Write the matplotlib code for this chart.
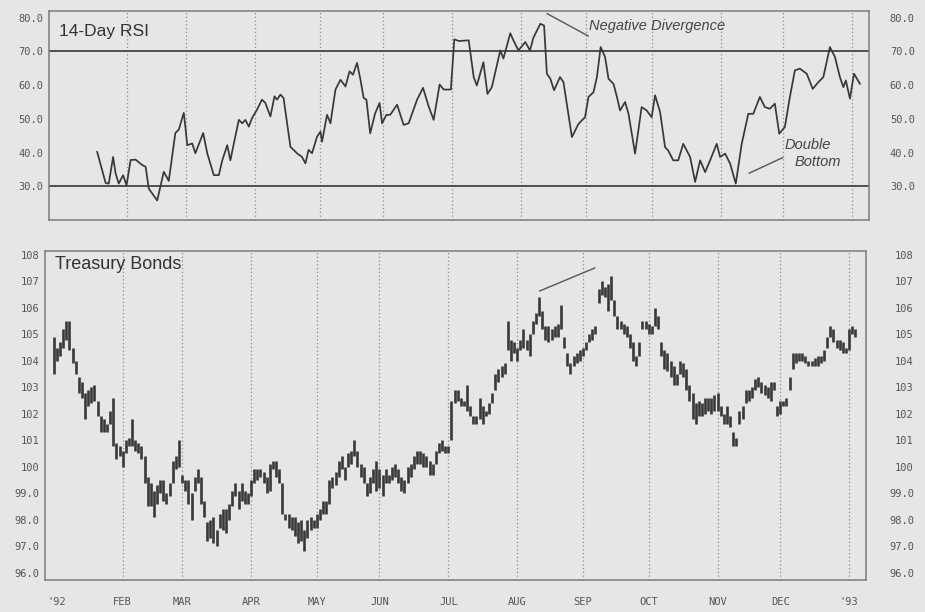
import matplotlib
matplotlib.use("Agg")
import matplotlib.pyplot as plt

# --------------------------------------------------------------------------- #
# Data (x = trading day of 1992, 0 = Jan 2)
# --------------------------------------------------------------------------- #

month_labels = ["'92", "FEB", "MAR", "APR", "MAY", "JUN", "JUL",
                "AUG", "SEP", "OCT", "NOV", "DEC", "'93"]
month_start = [0, 21, 40, 62, 83, 103, 125, 147, 168, 189, 211, 231, 253]

rsi_ticks = [30, 40, 50, 60, 70, 80]
rsi_levels = [30, 70]

rsi_day = [
    11.6, 14.3, 15.3, 16.7, 17.5, 18.5, 19.9, 21.0, 22.3, 23.9,
    26.0, 27.1, 28.1, 30.8, 32.9, 34.5, 36.6, 37.7, 39.3, 39.8,
    40.4, 42.0, 43.0, 45.5, 46.8, 48.9, 50.5, 51.6, 53.2, 54.2,
    55.3, 56.9, 58.0, 59.0, 60.1, 61.1, 62.7, 64.3, 65.4, 67.0,
    68.3, 69.1, 70.2, 71.2, 73.4, 75.5, 77.1, 78.2, 79.2, 80.3,
    81.9, 83.0, 83.5, 85.1, 86.2, 87.8, 89.4, 91.0, 92.3, 93.4,
    94.7, 95.8, 96.8, 97.7, 98.9, 100.5, 101.9, 102.7, 104.1, 105.3,
    107.5, 109.6, 111.2, 113.9, 115.8, 117.6, 119.2, 121.1, 122.4, 124.7,
    125.8, 127.2, 130.4, 132.0, 133.0, 135.1, 136.4, 137.8, 140.5, 141.5,
    143.7, 144.7, 146.3, 148.5, 150.0, 151.1, 153.3, 154.5, 155.4, 156.5,
    157.7, 159.6, 160.7, 163.4, 165.5, 167.6, 168.7, 170.3, 171.4, 172.6,
    174.0, 175.1, 176.7, 177.8, 178.8, 180.4, 181.5, 183.6, 185.7, 187.3,
    188.9, 190.0, 191.6, 193.2, 194.2, 195.8, 197.4, 199.0, 201.2, 202.8,
    204.4, 206.0, 207.6, 209.7, 210.8, 212.4, 214.0, 215.8, 217.7, 219.8,
    221.4, 223.5, 225.1, 226.7, 228.3, 229.7, 231.5, 233.1, 234.7, 236.3,
    238.5, 240.4, 242.2, 243.8, 245.9, 247.5, 249.1, 250.2, 251.0, 252.3,
    253.6, 255.5,
]
rsi_value = [
    40.2, 31.0, 30.8, 38.7, 33.8, 30.8, 33.3, 30.3, 37.8, 37.9,
    36.3, 35.8, 29.3, 25.8, 34.3, 31.6, 45.8, 46.8, 51.8, 47.7,
    42.2, 42.7, 39.8, 45.8, 39.8, 33.3, 33.3, 37.7, 42.2, 37.7,
    42.7, 49.7, 48.7, 49.7, 47.7, 50.2, 52.7, 55.7, 54.7, 50.7,
    56.7, 55.7, 57.2, 56.2, 41.7, 39.8, 38.7, 36.8, 40.8, 39.8,
    44.7, 46.2, 43.2, 51.2, 48.7, 58.7, 61.6, 59.6, 64.1, 63.1,
    66.6, 61.6, 56.2, 55.7, 45.7, 51.7, 54.7, 48.7, 51.2, 51.2,
    54.2, 48.2, 48.7, 55.7, 59.2, 53.7, 49.7, 60.2, 58.7, 58.7,
    73.6, 73.1, 73.3, 62.4, 59.9, 66.8, 57.4, 59.4, 70.3, 67.9,
    75.4, 73.3, 70.3, 72.8, 70.3, 74.1, 78.2, 77.7, 63.4, 61.9,
    58.5, 62.4, 60.9, 44.6, 48.5, 50.5, 56.5, 57.9, 62.4, 71.3,
    68.4, 61.9, 60.4, 56.5, 52.5, 55.0, 51.5, 39.7, 53.5, 52.5,
    50.5, 57.0, 52.0, 41.6, 40.6, 37.7, 37.7, 42.6, 38.7, 31.3,
    37.7, 34.2, 37.7, 42.6, 38.7, 39.7, 36.7, 30.8, 42.6, 51.5,
    51.5, 56.5, 53.5, 53.0, 54.5, 45.6, 47.6, 56.5, 64.4, 64.9,
    63.4, 58.9, 60.9, 62.4, 71.3, 68.4, 62.4, 59.4, 61.4, 56.0,
    63.4, 60.4,
]

bond_ticks = [96, 97, 98, 99, 100, 101, 102, 103, 104, 105, 106, 107, 108]
bond_tick_labels = ["96.0", "97.0", "98.0", "99.0", "100", "101", "102",
                    "103", "104", "105", "106", "107", "108"]

# daily high / low bars, first bar is the day before Jan 2
bond_first_day = -1
bond_high = [
    104.9, 104.5, 104.7, 105.2, 105.5, 105.5, 104.5, 104.0, 103.4, 103.2,
    102.8, 102.9, 103.0, 103.1, 102.5, 101.9, 101.8, 101.6, 102.1, 102.6,
    100.9, 100.8, 100.6, 101.0, 101.1, 101.8, 101.0, 100.9, 100.8, 100.4,
    99.6, 99.4, 99.1, 99.3, 99.5, 99.5, 99.0, 99.4, 100.2, 100.4,
    101.0, 99.7, 99.5, 99.5, 99.0, 99.6, 99.9, 99.6, 98.7, 97.9,
    98.0, 98.1, 97.6, 98.2, 98.4, 98.4, 98.6, 99.1, 99.4, 99.1,
    99.4, 99.1, 99.0, 99.5,
    99.9, 99.9, 99.9, 99.8, 99.6, 100.1, 100.2, 100.2, 99.9, 99.4,
    98.2, 98.2, 98.1, 98.1, 97.9, 98.0, 97.6, 98.0, 98.1, 98.0,
    98.2, 98.4, 98.7, 98.7, 99.5, 99.6, 99.8, 100.2, 100.4, 100.0,
    100.5, 100.6, 101.0, 100.6, 100.1, 100.0, 99.4, 99.6, 99.9, 100.2,
    99.9, 99.7, 99.9, 99.7, 100.0, 100.1, 99.9, 99.6, 99.5, 100.0,
    100.1, 100.4, 100.6, 100.6, 100.5, 100.4, 100.2, 100.1, 100.6, 100.9,
    101.0, 100.8, 100.8, 102.5, 102.9, 102.9,
    102.6, 102.5, 103.1, 102.3, 101.9, 101.9, 102.6, 102.3, 102.1, 102.4,
    102.8, 103.5, 103.7, 103.8, 103.9, 105.5, 104.8, 104.7, 104.5, 104.8,
    105.2, 104.8, 105.0, 105.5, 105.8, 106.4, 105.9, 105.3, 105.3, 105.2,
    105.3, 105.4, 106.1, 104.9, 104.3, 103.9, 104.2, 104.3, 104.4, 104.5,
    104.7, 105.0, 105.2, 105.3, 106.7, 107.0, 106.8, 106.9, 107.2, 106.3,
    105.7, 105.5, 105.4, 105.3, 105.0, 104.7, 104.2, 104.7, 105.5, 105.5,
    105.4, 105.3, 106.0, 105.7, 104.7, 104.4,
    104.3, 104.0, 103.8, 103.5, 104.0, 103.9, 103.7, 103.1, 102.8, 102.4,
    102.5, 102.4, 102.6, 102.6, 102.6, 102.7, 102.8, 102.3, 102.0, 102.3,
    101.9, 101.3, 101.1, 102.1, 102.3, 102.9, 102.9, 103.0, 103.3, 103.4,
    103.2, 103.1, 103.0, 103.2, 103.2, 102.3, 102.5, 102.5, 102.6, 103.4,
    104.3, 104.3, 104.3, 104.3, 104.2, 104.0, 104.0, 104.1, 104.2, 104.2,
    104.4, 104.9, 105.3, 105.2, 104.8, 104.8, 104.7, 104.5, 105.2, 105.3,
    105.2,
]
bond_low = [
    103.5, 104.0, 104.2, 104.5, 104.8, 104.4, 103.9, 103.5, 102.8, 102.6,
    101.8, 102.3, 102.4, 102.5, 101.9, 101.3, 101.3, 101.3, 101.6, 100.8,
    100.3, 100.4, 100.0, 100.5, 100.8, 100.8, 100.6, 100.5, 100.3, 99.4,
    98.5, 98.5, 98.1, 98.6, 99.0, 98.7, 98.6, 98.9, 99.4, 99.9,
    100.0, 99.4, 99.1, 98.6, 98.0, 99.1, 99.4, 98.6, 98.1, 97.2,
    97.3, 97.1, 97.0, 97.7, 97.6, 97.5, 98.0, 98.5, 98.9, 98.4,
    98.7, 98.6, 98.6, 98.9,
    99.4, 99.5, 99.6, 99.4, 99.0, 99.1, 99.9, 99.6, 99.4, 98.2,
    98.0, 97.7, 97.6, 97.4, 97.1, 97.2, 96.8, 97.3, 97.6, 97.7,
    97.7, 98.0, 98.2, 98.2, 98.6, 99.2, 99.3, 99.6, 99.9, 99.5,
    100.0, 100.1, 100.4, 100.0, 99.6, 99.4, 98.9, 99.0, 99.4, 99.1,
    99.2, 98.9, 99.4, 99.4, 99.5, 99.6, 99.4, 99.1, 99.0, 99.4,
    99.6, 99.9, 100.1, 100.1, 100.0, 100.0, 99.7, 99.7, 100.1, 100.5,
    100.6, 100.5, 100.5, 101.0, 102.4, 102.5,
    102.3, 102.3, 102.1, 101.9, 101.6, 101.6, 101.8, 101.6, 101.9, 102.0,
    102.4, 102.9, 103.2, 103.4, 103.5, 104.4, 104.0, 104.3, 104.0, 104.4,
    104.5, 104.4, 104.2, 105.0, 105.4, 105.7, 105.2, 104.8, 104.7, 104.8,
    104.9, 104.9, 105.2, 104.5, 103.8, 103.5, 103.8, 103.9, 104.0, 104.2,
    104.4, 104.7, 104.8, 105.0, 106.2, 106.5, 106.4, 105.9, 106.3, 105.7,
    105.2, 105.2, 105.0, 104.9, 104.5, 104.0, 103.8, 104.2, 105.2, 105.2,
    105.0, 105.0, 105.3, 105.2, 104.2, 103.7,
    103.6, 103.4, 103.1, 103.1, 103.5, 103.4, 102.9, 102.5, 101.8, 101.6,
    101.9, 101.9, 102.0, 102.1, 102.0, 102.1, 102.1, 101.9, 101.6, 101.6,
    101.5, 100.8, 100.8, 101.6, 101.8, 102.4, 102.5, 102.6, 102.9, 103.0,
    102.8, 102.7, 102.6, 102.5, 102.9, 101.9, 102.0, 102.3, 102.3, 102.9,
    103.7, 103.9, 104.0, 104.0, 103.9, 103.8, 103.8, 103.8, 103.8, 103.9,
    104.0, 104.5, 104.9, 104.7, 104.5, 104.4, 104.3, 104.3, 104.4, 105.0,
    104.9,
]
assert len(bond_high) == len(bond_low)

# --------------------------------------------------------------------------- #
# Style
# --------------------------------------------------------------------------- #

PAPER = "#e6e6e4"
INK = "#383838"
FRAME = "#7c7c7c"
GRID = "#8a8a8a"
LABEL = "#555555"
TICK_FONT = dict(family="DejaVu Sans Mono", size=7.5, color=LABEL)
TEXT_FONT = ["Liberation Sans", "DejaVu Sans"]

XLIM = (-3.8, 258.4)


def style_panel(ax, ticks, labels, ylim, right_pad):
    ax.set_facecolor(PAPER)
    ax.set_xlim(*XLIM)
    ax.set_ylim(*ylim)
    for s in ax.spines.values():
        s.set_color(FRAME)
        s.set_linewidth(1.1)
    ax.set_yticks(ticks)
    ax.set_yticklabels(labels, fontdict=TICK_FONT)
    ax.tick_params(axis="y", length=0, pad=4)
    ax.vlines(month_start[1:], ylim[0], ylim[1], colors=GRID,
              linestyles=(0, (1, 2)), linewidth=0.9, zorder=1)

    # right-hand scale, right-aligned like the original
    twin = ax.twinx()
    twin.set_ylim(*ylim)
    twin.set_yticks(ticks)
    twin.set_yticklabels(labels, fontdict=TICK_FONT)
    twin.tick_params(axis="y", length=0, pad=right_pad)
    for t in twin.get_yticklabels():
        t.set_horizontalalignment("right")
    for s in twin.spines.values():
        s.set_visible(False)
    return twin


fig = plt.figure(figsize=(9.25, 6.12), dpi=100)
fig.patch.set_facecolor(PAPER)

ax_rsi = fig.add_axes([49 / 925, 1 - 220 / 612, 820 / 925, 209 / 612])
ax_bond = fig.add_axes([45 / 925, 1 - 580 / 612, 821 / 925, 329 / 612])

# ---- 14-day RSI ----
style_panel(ax_rsi, rsi_ticks, [f"{v:.1f}" for v in rsi_ticks], (20, 82), 33)
ax_rsi.set_xticks([])
for lvl in rsi_levels:
    ax_rsi.axhline(lvl, color="#444444", linewidth=1.3, zorder=2)
ax_rsi.plot(rsi_day, rsi_value, color=INK, linewidth=1.25, zorder=3)
ax_rsi.text(0.012, 0.94, "14-Day RSI", transform=ax_rsi.transAxes,
            family=TEXT_FONT, fontsize=12.5, color="#333333", va="top")

ax_rsi.text(190.5, 77.5, "Negative Divergence", family=TEXT_FONT,
            style="italic", fontsize=10.5, color="#444444", ha="center", va="center")
ax_rsi.plot([155.5, 168.6], [81.2, 74.6], color="#555555", linewidth=1.0)
ax_rsi.text(238.9, 42.2, "Double", family=TEXT_FONT, style="italic",
            fontsize=10.5, color="#444444", ha="center", va="center")
ax_rsi.text(242.1, 37.2, "Bottom", family=TEXT_FONT, style="italic",
            fontsize=10.5, color="#444444", ha="center", va="center")
ax_rsi.plot([230.8, 220.1], [38.5, 33.9], color="#555555", linewidth=1.0)

# ---- Treasury bonds ----
style_panel(ax_bond, bond_ticks, bond_tick_labels, (95.72, 108.15), 34.5)
bond_days = list(range(bond_first_day, bond_first_day + len(bond_high)))
ax_bond.vlines(bond_days, bond_low, bond_high, colors=INK, linewidth=1.9, zorder=3)
ax_bond.plot([154.2, 171.8], [106.64, 107.51], color="#555555", linewidth=1.0)
ax_bond.text(0.012, 0.985, "Treasury Bonds", transform=ax_bond.transAxes,
             family=TEXT_FONT, fontsize=13, color="#333333", va="top")

ax_bond.set_xticks(month_start)
ax_bond.set_xticklabels(month_labels, fontdict=TICK_FONT)
ax_bond.tick_params(axis="x", length=0, pad=12)

fig.savefig("out.png", dpi=100, facecolor=PAPER)
